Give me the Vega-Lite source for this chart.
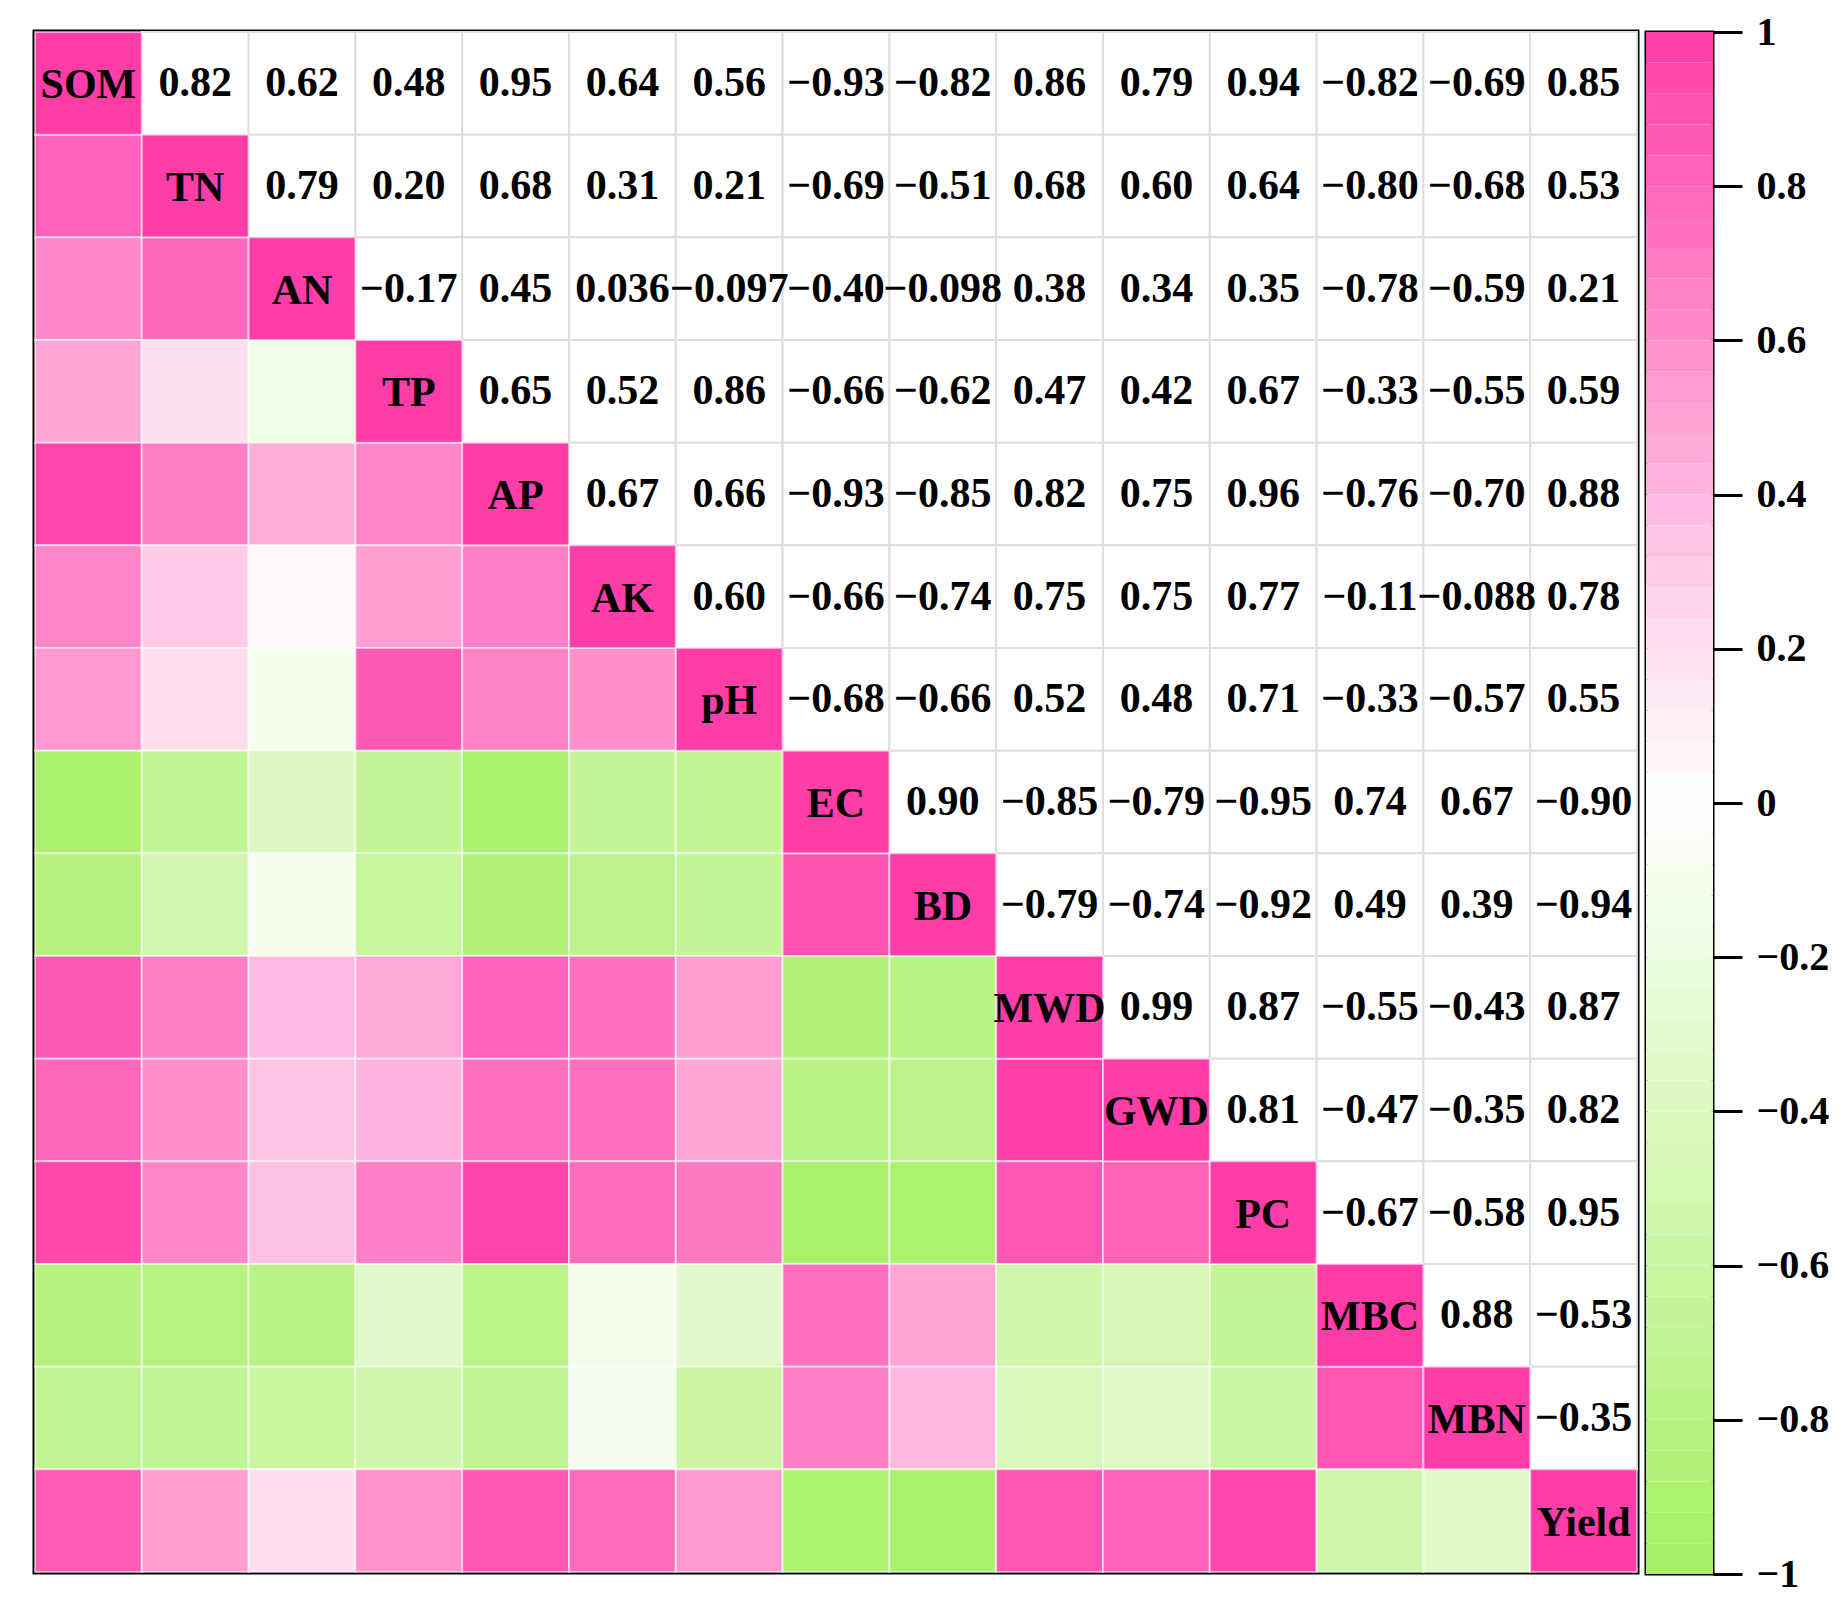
{
  "$schema": "https://vega.github.io/schema/vega-lite/v6.json",
  "background": "white",
  "padding": {"left": 31, "top": 10, "right": 5, "bottom": 5},
  "spacing": 3,
  "config": {"font": "Liberation Serif"},
  "datasets": {
    "pairs": [
      {"r": "SOM", "c": "TN", "v": 0.82}, {"r": "SOM", "c": "AN", "v": 0.62}, {"r": "SOM", "c": "TP", "v": 0.48}, {"r": "SOM", "c": "AP", "v": 0.95}, {"r": "SOM", "c": "AK", "v": 0.64}, {"r": "SOM", "c": "pH", "v": 0.56}, {"r": "SOM", "c": "EC", "v": -0.93}, {"r": "SOM", "c": "BD", "v": -0.82}, {"r": "SOM", "c": "MWD", "v": 0.86}, {"r": "SOM", "c": "GWD", "v": 0.79}, {"r": "SOM", "c": "PC", "v": 0.94}, {"r": "SOM", "c": "MBC", "v": -0.82}, {"r": "SOM", "c": "MBN", "v": -0.69}, {"r": "SOM", "c": "Yield", "v": 0.85},
      {"r": "TN", "c": "AN", "v": 0.79}, {"r": "TN", "c": "TP", "v": 0.20}, {"r": "TN", "c": "AP", "v": 0.68}, {"r": "TN", "c": "AK", "v": 0.31}, {"r": "TN", "c": "pH", "v": 0.21}, {"r": "TN", "c": "EC", "v": -0.69}, {"r": "TN", "c": "BD", "v": -0.51}, {"r": "TN", "c": "MWD", "v": 0.68}, {"r": "TN", "c": "GWD", "v": 0.60}, {"r": "TN", "c": "PC", "v": 0.64}, {"r": "TN", "c": "MBC", "v": -0.80}, {"r": "TN", "c": "MBN", "v": -0.68}, {"r": "TN", "c": "Yield", "v": 0.53},
      {"r": "AN", "c": "TP", "v": -0.17}, {"r": "AN", "c": "AP", "v": 0.45}, {"r": "AN", "c": "AK", "v": 0.036}, {"r": "AN", "c": "pH", "v": -0.097}, {"r": "AN", "c": "EC", "v": -0.40}, {"r": "AN", "c": "BD", "v": -0.098}, {"r": "AN", "c": "MWD", "v": 0.38}, {"r": "AN", "c": "GWD", "v": 0.34}, {"r": "AN", "c": "PC", "v": 0.35}, {"r": "AN", "c": "MBC", "v": -0.78}, {"r": "AN", "c": "MBN", "v": -0.59}, {"r": "AN", "c": "Yield", "v": 0.21},
      {"r": "TP", "c": "AP", "v": 0.65}, {"r": "TP", "c": "AK", "v": 0.52}, {"r": "TP", "c": "pH", "v": 0.86}, {"r": "TP", "c": "EC", "v": -0.66}, {"r": "TP", "c": "BD", "v": -0.62}, {"r": "TP", "c": "MWD", "v": 0.47}, {"r": "TP", "c": "GWD", "v": 0.42}, {"r": "TP", "c": "PC", "v": 0.67}, {"r": "TP", "c": "MBC", "v": -0.33}, {"r": "TP", "c": "MBN", "v": -0.55}, {"r": "TP", "c": "Yield", "v": 0.59},
      {"r": "AP", "c": "AK", "v": 0.67}, {"r": "AP", "c": "pH", "v": 0.66}, {"r": "AP", "c": "EC", "v": -0.93}, {"r": "AP", "c": "BD", "v": -0.85}, {"r": "AP", "c": "MWD", "v": 0.82}, {"r": "AP", "c": "GWD", "v": 0.75}, {"r": "AP", "c": "PC", "v": 0.96}, {"r": "AP", "c": "MBC", "v": -0.76}, {"r": "AP", "c": "MBN", "v": -0.70}, {"r": "AP", "c": "Yield", "v": 0.88},
      {"r": "AK", "c": "pH", "v": 0.60}, {"r": "AK", "c": "EC", "v": -0.66}, {"r": "AK", "c": "BD", "v": -0.74}, {"r": "AK", "c": "MWD", "v": 0.75}, {"r": "AK", "c": "GWD", "v": 0.75}, {"r": "AK", "c": "PC", "v": 0.77}, {"r": "AK", "c": "MBC", "v": -0.11}, {"r": "AK", "c": "MBN", "v": -0.088}, {"r": "AK", "c": "Yield", "v": 0.78},
      {"r": "pH", "c": "EC", "v": -0.68}, {"r": "pH", "c": "BD", "v": -0.66}, {"r": "pH", "c": "MWD", "v": 0.52}, {"r": "pH", "c": "GWD", "v": 0.48}, {"r": "pH", "c": "PC", "v": 0.71}, {"r": "pH", "c": "MBC", "v": -0.33}, {"r": "pH", "c": "MBN", "v": -0.57}, {"r": "pH", "c": "Yield", "v": 0.55},
      {"r": "EC", "c": "BD", "v": 0.90}, {"r": "EC", "c": "MWD", "v": -0.85}, {"r": "EC", "c": "GWD", "v": -0.79}, {"r": "EC", "c": "PC", "v": -0.95}, {"r": "EC", "c": "MBC", "v": 0.74}, {"r": "EC", "c": "MBN", "v": 0.67}, {"r": "EC", "c": "Yield", "v": -0.90},
      {"r": "BD", "c": "MWD", "v": -0.79}, {"r": "BD", "c": "GWD", "v": -0.74}, {"r": "BD", "c": "PC", "v": -0.92}, {"r": "BD", "c": "MBC", "v": 0.49}, {"r": "BD", "c": "MBN", "v": 0.39}, {"r": "BD", "c": "Yield", "v": -0.94},
      {"r": "MWD", "c": "GWD", "v": 0.99}, {"r": "MWD", "c": "PC", "v": 0.87}, {"r": "MWD", "c": "MBC", "v": -0.55}, {"r": "MWD", "c": "MBN", "v": -0.43}, {"r": "MWD", "c": "Yield", "v": 0.87},
      {"r": "GWD", "c": "PC", "v": 0.81}, {"r": "GWD", "c": "MBC", "v": -0.47}, {"r": "GWD", "c": "MBN", "v": -0.35}, {"r": "GWD", "c": "Yield", "v": 0.82},
      {"r": "PC", "c": "MBC", "v": -0.67}, {"r": "PC", "c": "MBN", "v": -0.58}, {"r": "PC", "c": "Yield", "v": 0.95},
      {"r": "MBC", "c": "MBN", "v": 0.88}, {"r": "MBC", "c": "Yield", "v": -0.53},
      {"r": "MBN", "c": "Yield", "v": -0.35}
    ],
    "diag": [
      {"r": "SOM", "c": "SOM", "v": 1}, {"r": "TN", "c": "TN", "v": 1}, {"r": "AN", "c": "AN", "v": 1}, {"r": "TP", "c": "TP", "v": 1}, {"r": "AP", "c": "AP", "v": 1}, {"r": "AK", "c": "AK", "v": 1}, {"r": "pH", "c": "pH", "v": 1}, {"r": "EC", "c": "EC", "v": 1}, {"r": "BD", "c": "BD", "v": 1}, {"r": "MWD", "c": "MWD", "v": 1}, {"r": "GWD", "c": "GWD", "v": 1}, {"r": "PC", "c": "PC", "v": 1}, {"r": "MBC", "c": "MBC", "v": 1}, {"r": "MBN", "c": "MBN", "v": 1}, {"r": "Yield", "c": "Yield", "v": 1}
    ],
    "bands": [
      {"lo": -1.00, "hi": -0.96, "v": -0.98}, {"lo": -0.96, "hi": -0.92, "v": -0.94}, {"lo": -0.92, "hi": -0.88, "v": -0.90}, {"lo": -0.88, "hi": -0.84, "v": -0.86}, {"lo": -0.84, "hi": -0.80, "v": -0.82},
      {"lo": -0.80, "hi": -0.76, "v": -0.78}, {"lo": -0.76, "hi": -0.72, "v": -0.74}, {"lo": -0.72, "hi": -0.68, "v": -0.70}, {"lo": -0.68, "hi": -0.64, "v": -0.66}, {"lo": -0.64, "hi": -0.60, "v": -0.62},
      {"lo": -0.60, "hi": -0.56, "v": -0.58}, {"lo": -0.56, "hi": -0.52, "v": -0.54}, {"lo": -0.52, "hi": -0.48, "v": -0.50}, {"lo": -0.48, "hi": -0.44, "v": -0.46}, {"lo": -0.44, "hi": -0.40, "v": -0.42},
      {"lo": -0.40, "hi": -0.36, "v": -0.38}, {"lo": -0.36, "hi": -0.32, "v": -0.34}, {"lo": -0.32, "hi": -0.28, "v": -0.30}, {"lo": -0.28, "hi": -0.24, "v": -0.26}, {"lo": -0.24, "hi": -0.20, "v": -0.22},
      {"lo": -0.20, "hi": -0.16, "v": -0.18}, {"lo": -0.16, "hi": -0.12, "v": -0.14}, {"lo": -0.12, "hi": -0.08, "v": -0.10}, {"lo": -0.08, "hi": -0.04, "v": -0.06}, {"lo": -0.04, "hi": 0.00, "v": -0.02},
      {"lo": 0.00, "hi": 0.04, "v": 0.02}, {"lo": 0.04, "hi": 0.08, "v": 0.06}, {"lo": 0.08, "hi": 0.12, "v": 0.10}, {"lo": 0.12, "hi": 0.16, "v": 0.14}, {"lo": 0.16, "hi": 0.20, "v": 0.18},
      {"lo": 0.20, "hi": 0.24, "v": 0.22}, {"lo": 0.24, "hi": 0.28, "v": 0.26}, {"lo": 0.28, "hi": 0.32, "v": 0.30}, {"lo": 0.32, "hi": 0.36, "v": 0.34}, {"lo": 0.36, "hi": 0.40, "v": 0.38},
      {"lo": 0.40, "hi": 0.44, "v": 0.42}, {"lo": 0.44, "hi": 0.48, "v": 0.46}, {"lo": 0.48, "hi": 0.52, "v": 0.50}, {"lo": 0.52, "hi": 0.56, "v": 0.54}, {"lo": 0.56, "hi": 0.60, "v": 0.58},
      {"lo": 0.60, "hi": 0.64, "v": 0.62}, {"lo": 0.64, "hi": 0.68, "v": 0.66}, {"lo": 0.68, "hi": 0.72, "v": 0.70}, {"lo": 0.72, "hi": 0.76, "v": 0.74}, {"lo": 0.76, "hi": 0.80, "v": 0.78},
      {"lo": 0.80, "hi": 0.84, "v": 0.82}, {"lo": 0.84, "hi": 0.88, "v": 0.86}, {"lo": 0.88, "hi": 0.92, "v": 0.90}, {"lo": 0.92, "hi": 0.96, "v": 0.94}, {"lo": 0.96, "hi": 1.00, "v": 0.98}
    ]
  },
  "hconcat": [
    {
      "width": 1602,
      "height": 1540,
      "view": {"stroke": "black", "strokeWidth": 5},
      "layer": [
        {
          "data": {"name": "pairs"},
          "mark": {"type": "rect", "fill": "white", "stroke": "#DEDEDE", "strokeWidth": 2},
          "encoding": {
            "x": {"field": "c", "type": "nominal", "axis": null, "scale": {"domain": ["SOM","TN","AN","TP","AP","AK","pH","EC","BD","MWD","GWD","PC","MBC","MBN","Yield"], "paddingInner": 0, "paddingOuter": 0}},
            "y": {"field": "r", "type": "nominal", "axis": null, "scale": {"domain": ["SOM","TN","AN","TP","AP","AK","pH","EC","BD","MWD","GWD","PC","MBC","MBN","Yield"], "paddingInner": 0, "paddingOuter": 0}}
          }
        },
        {
          "data": {"name": "pairs"},
          "mark": {"type": "rect", "stroke": "white", "strokeOpacity": 0.55, "strokeWidth": 2},
          "encoding": {
            "x": {"field": "r", "type": "nominal"}, "y": {"field": "c", "type": "nominal"},
            "color": {"field": "v", "type": "quantitative", "legend": null, "scale": {"type": "linear", "domain": [-1, 0, 0.2, 1], "range": ["#A5F062", "#FFFFFF", "#FFE0F1", "#FF3DA8"], "interpolate": "rgb"}}
          }
        },
        {
          "data": {"name": "diag"},
          "mark": {"type": "rect", "stroke": "white", "strokeOpacity": 0.55, "strokeWidth": 2},
          "encoding": {
            "x": {"field": "c", "type": "nominal"}, "y": {"field": "r", "type": "nominal"},
            "color": {"field": "v", "type": "quantitative", "legend": null, "scale": {"type": "linear", "domain": [-1, 0, 0.2, 1], "range": ["#A5F062", "#FFFFFF", "#FFE0F1", "#FF3DA8"], "interpolate": "rgb"}}
          }
        },
        {
          "data": {"name": "pairs"},
          "mark": {"type": "text", "font": "Liberation Serif", "fontWeight": "bold", "fontSize": 42, "color": "black", "baseline": "middle", "align": "center"},
          "encoding": {"x": {"field": "c", "type": "nominal"}, "y": {"field": "r", "type": "nominal"}, "text": {"field": "v", "type": "quantitative", "format": ".2r"}}
        },
        {
          "data": {"name": "diag"},
          "mark": {"type": "text", "font": "Liberation Serif", "fontWeight": "bold", "fontSize": 42, "color": "black", "baseline": "middle", "align": "center", "dy": 2},
          "encoding": {"x": {"field": "c", "type": "nominal"}, "y": {"field": "r", "type": "nominal"}, "text": {"field": "c", "type": "nominal"}}
        }
      ]
    },
    {
      "width": 67,
      "height": 1542,
      "view": {"stroke": "black", "strokeWidth": 3},
      "data": {"name": "bands"},
      "mark": {"type": "rect"},
      "encoding": {
        "x": {"value": 0},
        "x2": {"value": "width"},
        "y": {"field": "lo", "type": "quantitative", "scale": {"domain": [-1, 1], "nice": false, "zero": false},
          "axis": {"orient": "right", "values": [1, 0.8, 0.6, 0.4, 0.2, 0, -0.2, -0.4, -0.6, -0.8, -1], "format": "~g", "title": null, "grid": false, "domain": false,
            "ticks": true, "tickSize": 29, "tickWidth": 3, "tickColor": "black", "labelFont": "Liberation Serif", "labelFontWeight": "bold", "labelFontSize": 40, "labelColor": "black",
            "labelPadding": 14, "labelAlign": "left", "labelBaseline": "middle", "labelFlush": false, "labelOverlap": false, "labelBound": false}},
        "y2": {"field": "hi"},
        "color": {"field": "v", "type": "quantitative", "legend": null, "scale": {"type": "linear", "domain": [-1, 0, 0.2, 1], "range": ["#A5F062", "#FFFFFF", "#FFE0F1", "#FF3DA8"], "interpolate": "rgb"}}
      }
    }
  ]
}
